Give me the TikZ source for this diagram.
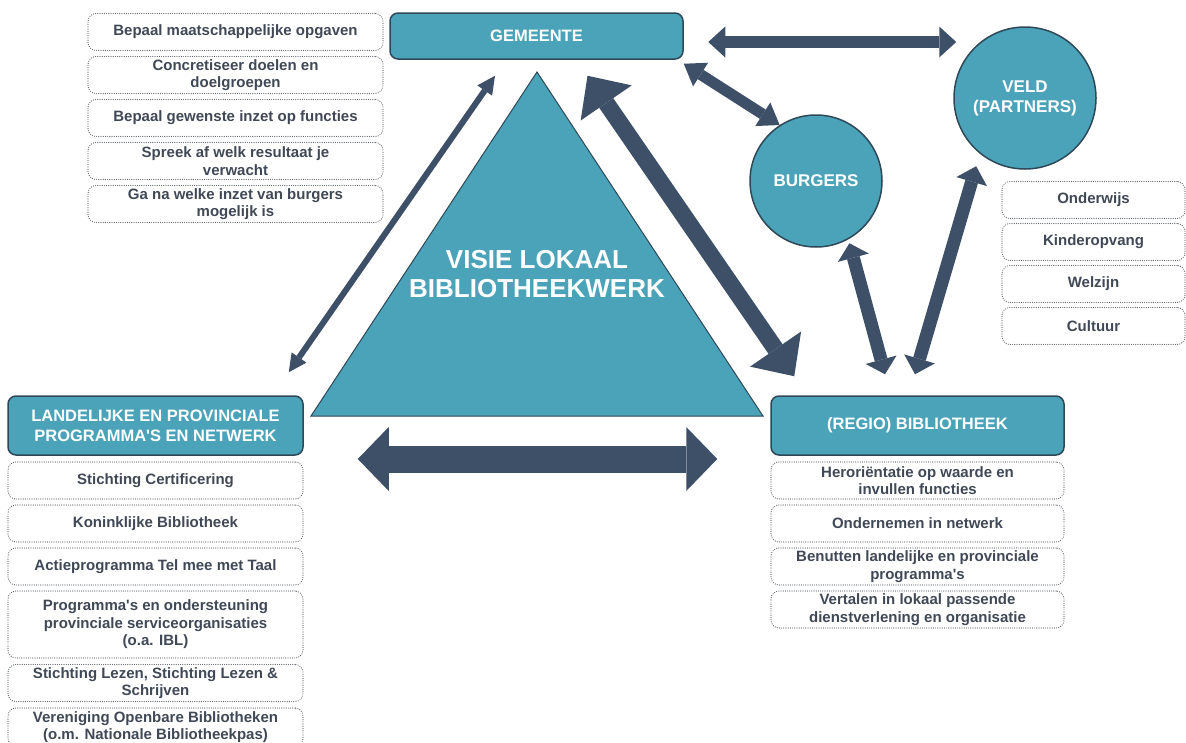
\documentclass[tikz,border=0pt]{standalone}
\usepackage{fontspec}
\setmainfont{Liberation Sans}
\usetikzlibrary{arrows.meta}

\definecolor{vlak}{RGB}{75,163,185}
\definecolor{rand}{RGB}{46,72,88}
\definecolor{pijl}{RGB}{62,80,104}
\definecolor{tekst}{RGB}{64,72,86}
\definecolor{stip}{RGB}{95,100,108}

\tikzset{
  hoofd/.style={draw=rand, line width=1.5pt, fill=vlak, rounded corners=8pt,
    text=white, align=center, inner sep=0pt,
    font=\bfseries\fontsize{16.5}{20}\selectfont},
  taak/.style={draw=stip, line width=1.2pt, line cap=round, dash pattern=on 0pt off 2.2pt,
    rounded corners=8pt, text=tekst, align=center, inner sep=0pt,
    minimum height=37pt, font=\bfseries\fontsize{15}{17.5}\selectfont},
  rondje/.style={circle, draw=rand, line width=1.5pt, fill=vlak, text=white,
    align=center, inner sep=0pt, font=\bfseries\fontsize{17}{20}\selectfont},
  pijlen/.style n args={3}{draw=pijl, line width=#1,
    {Triangle[width=#2,length=#3,line width=0pt]}-{Triangle[width=#2,length=#3,line width=0pt]}}
}

\begin{document}
\begin{tikzpicture}[x=1pt,y=-1pt]
  \clip (0,0) rectangle (1186,742);

  % driehoek in het midden
  \filldraw[fill=vlak, draw=rand, line width=1pt] (537,72) -- (311,416) -- (763,416) -- cycle;
  \node[text=white, align=center, font=\bfseries\fontsize{26}{29}\selectfont] (visie) at (537,274) {VISIE LOKAAL\\BIBLIOTHEEKWERK};

  % hoofdblokken
  \node[hoofd, minimum width=293pt, minimum height=46pt] (gemeente) at (536.5,36) {GEMEENTE};
  \node[hoofd, minimum width=295pt, minimum height=59pt] (landelijk) at (155.5,425.5) {LANDELIJKE EN PROVINCIALE\\PROGRAMMA\textquotesingle S EN NETWERK};
  \node[hoofd, minimum width=293pt, minimum height=59pt] (regio) at (917.5,425.5) {(REGIO) BIBLIOTHEEK};
  \node[rondje, minimum size=132pt] (burgers) at (816,181) {BURGERS};
  \node[rondje, minimum size=142pt] (veld) at (1025,98) {VELD\\(PARTNERS)};

  % taken gemeente
  \node[taak, minimum width=295pt] (opgave1) at (235.5,32) {Bepaal maatschappelijke opgaven};
  \node[taak, minimum width=295pt] (opgave2) at (235.5,75) {Concretiseer doelen en\\doelgroepen};
  \node[taak, minimum width=295pt] (opgave3) at (235.5,118) {Bepaal gewenste inzet op functies};
  \node[taak, minimum width=295pt] (opgave4) at (235.5,161) {Spreek af welk resultaat je\\verwacht};
  \node[taak, minimum width=295pt] (opgave5) at (235.5,204) {Ga na welke inzet van burgers\\mogelijk is};

  % partners
  \node[taak, minimum width=183pt] (partner1) at (1093.5,200) {Onderwijs};
  \node[taak, minimum width=183pt] (partner2) at (1093.5,242) {Kinderopvang};
  \node[taak, minimum width=183pt] (partner3) at (1093.5,284) {Welzijn};
  \node[taak, minimum width=183pt] (partner4) at (1093.5,326) {Cultuur};

  % landelijke programma's
  \node[taak, minimum width=295pt] (prog1) at (155.5,480.5) {Stichting Certificering};
  \node[taak, minimum width=295pt] (prog2) at (155.5,523.5) {Koninklijke Bibliotheek};
  \node[taak, minimum width=295pt] (prog3) at (155.5,566.5) {Actieprogramma Tel mee met Taal};
  \node[taak, minimum width=295pt, minimum height=67pt] (prog4) at (155.5,624.5) {Programma\textquotesingle s en ondersteuning\\provinciale serviceorganisaties\\(o.a. IBL)};
  \node[taak, minimum width=295pt] (prog5) at (155.5,683) {Stichting Lezen, Stichting Lezen \&\\Schrijven};
  \node[taak, minimum width=295pt, minimum height=38pt] (prog6) at (155.5,727) {Vereniging Openbare Bibliotheken\\(o.m. Nationale Bibliotheekpas)};

  % bibliotheek
  \node[taak, minimum width=293pt] (bib1) at (917.5,480.5) {Heroriëntatie op waarde en\\invullen functies};
  \node[taak, minimum width=293pt] (bib2) at (917.5,523.5) {Ondernemen in netwerk};
  \node[taak, minimum width=293pt] (bib3) at (917.5,566.5) {Benutten landelijke en provinciale\\programma\textquotesingle s};
  \node[taak, minimum width=293pt] (bib4) at (917.5,609.5) {Vertalen in lokaal passende\\dienstverlening en organisatie};

  % pijlen
  \draw[pijlen={12pt}{31pt}{17pt}] ([shift={(24.5,6)}]gemeente.east) -- ([shift={(3,-56)}]veld.west);
  \draw[pijlen={11pt}{28pt}{20pt}] ([shift={(0,4)}]gemeente.south east) -- (burgers.123);
  \draw[pijlen={17pt}{62pt}{33pt}] ([shift={(51,16)}]gemeente.south) -- ([shift={(24,-19)}]regio.north west);
  \draw[pijlen={6pt}{18pt}{18pt}] ([shift={(-41.5,16)}]gemeente.south) -- ([shift={(-15,-23)}]landelijk.north east);
  \draw[pijlen={27pt}{64pt}{31pt}] ([shift={(54,33.5)}]landelijk.east) -- ([shift={(-53,33.5)}]regio.west);
  \draw[pijlen={13pt}{32pt}{15pt}, shorten <=4pt] (burgers.-61) -- ([shift={(-32.5,-21)}]regio.north);
  \draw[pijlen={13pt}{32pt}{16pt}, shorten <=13pt] (veld.231) -- ([shift={(-2.5,-21)}]regio.north);
\end{tikzpicture}
\end{document}
